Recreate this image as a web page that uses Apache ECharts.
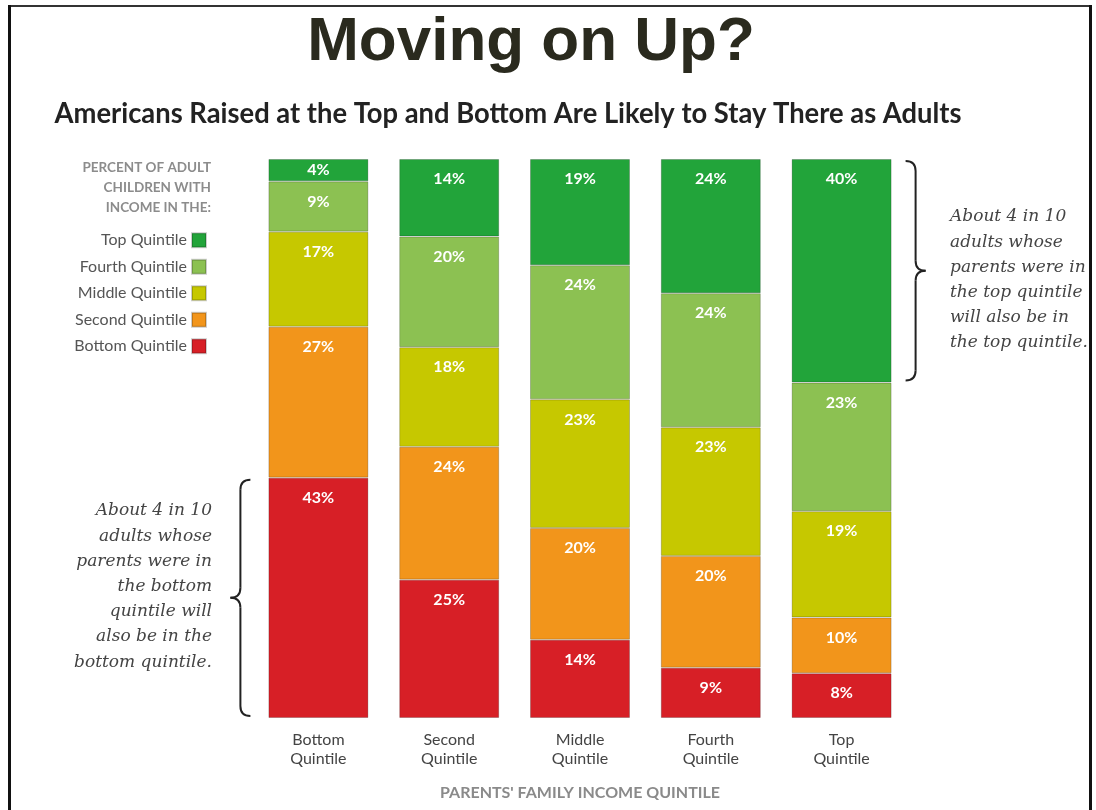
<!DOCTYPE html>
<html>
<head>
<meta charset="utf-8">
<title>Moving on Up?</title>
<script src="https://cdn.jsdelivr.net/npm/echarts@6/dist/echarts.min.js"></script>
<style>
  html, body { margin: 0; padding: 0; background: #fff; }
  #main { width: 1096px; height: 810px; }
</style>
</head>
<body>
<div id="main"></div>
<script>
// parents' family income quintile (x axis)
var categories = ['Bottom\nQuintile', 'Second\nQuintile', 'Middle\nQuintile', 'Fourth\nQuintile', 'Top\nQuintile'];

// percent of adult children with income in the ... quintile
var bottomQuintile = [43, 25, 14, 9, 8];
var secondQuintile = [27, 24, 20, 20, 10];
var middleQuintile = [17, 18, 23, 23, 19];
var fourthQuintile = [9, 20, 24, 24, 23];
var topQuintile = [4, 14, 19, 24, 40];

var seriesNames = ['Bottom Quintile', 'Second Quintile', 'Middle Quintile', 'Fourth Quintile', 'Top Quintile'];
var seriesColors = ['#d71f26', '#f2951b', '#c6c800', '#8cc152', '#22a43a'];
var seriesValues = [bottomQuintile, secondQuintile, middleQuintile, fourthQuintile, topQuintile];

// column totals (second column adds to 101), bars are drawn as share of the total
var totals = categories.map(function (c, i) {
  var s = 0;
  seriesValues.forEach(function (arr) { s += arr[i]; });
  return s;
});

var chart = echarts.init(document.getElementById('main'));

var series = seriesNames.map(function (name, k) {
  return {
    name: name,
    type: 'bar',
    stack: 'total',
    barWidth: 100,
    itemStyle: {
      color: seriesColors[k],
      borderColor: 'rgba(0,0,0,0.2)',
      borderWidth: 1
    },
    label: {
      show: true,
      position: 'insideTop',
      distance: 12,
      color: '#fff',
      fontFamily: 'Lato',
      fontWeight: 'bold',
      fontSize: 16,
      formatter: function (p) { return p.data.raw + '%'; }
    },
    data: seriesValues[k].map(function (v, i) {
      var item = { value: v * 100 / totals[i], raw: v };
      if (v < 6) {
        item.label = { position: 'inside' };
      }
      return item;
    })
  };
});

var option = {
  animation: false,
  backgroundColor: '#fff',
  grid: { left: 253, right: 189, top: 159, bottom: 92 },
  legend: {
    orient: 'vertical',
    align: 'right',
    right: 889,
    top: 231,
    padding: 0,
    itemWidth: 14,
    itemHeight: 14,
    itemGap: 8,
    icon: 'rect',
    selectedMode: false,
    textStyle: { color: '#555', fontFamily: 'Lato', fontSize: 16, lineHeight: 18.5 },
    data: ['Top Quintile', 'Fourth Quintile', 'Middle Quintile', 'Second Quintile', 'Bottom Quintile']
  },
  xAxis: {
    type: 'category',
    data: categories,
    axisLine: { show: false },
    axisTick: { show: false },
    axisLabel: {
      color: '#444',
      fontFamily: 'Lato',
      fontSize: 16,
      lineHeight: 19,
      margin: 12
    },
    name: "PARENTS' FAMILY INCOME QUINTILE",
    nameLocation: 'middle',
    nameGap: 67,
    nameTextStyle: { color: '#8a8a8a', fontFamily: 'Lato', fontWeight: 'bold', fontSize: 16 }
  },
  yAxis: { type: 'value', min: 0, max: 100, show: false },
  series: series
};

chart.setOption(option);

var braceStyle = { stroke: '#222', lineWidth: 2, fill: 'none' };

// curly brace built from curves and lines, tip pointing right (dir 1) or left (dir -1)
function brace(x0, y1, y2, depth, dir) {
  var xm = x0 + dir * depth / 2;
  var xt = x0 + dir * depth;
  var ym = (y1 + y2) / 2;
  var r = 10;
  return [
    { type: 'bezierCurve', shape: { x1: x0, y1: y1, cpx1: xm, cpy1: y1, x2: xm, y2: y1 + r }, style: braceStyle },
    { type: 'line', shape: { x1: xm, y1: y1 + r, x2: xm, y2: ym - r }, style: braceStyle },
    { type: 'bezierCurve', shape: { x1: xm, y1: ym - r, cpx1: xm, cpy1: ym, x2: xt, y2: ym }, style: braceStyle },
    { type: 'bezierCurve', shape: { x1: xt, y1: ym, cpx1: xm, cpy1: ym, x2: xm, y2: ym + r }, style: braceStyle },
    { type: 'line', shape: { x1: xm, y1: ym + r, x2: xm, y2: y2 - r }, style: braceStyle },
    { type: 'bezierCurve', shape: { x1: xm, y1: y2 - r, cpx1: xm, cpy1: y2, x2: x0, y2: y2 }, style: braceStyle }
  ];
}

var last = categories.length - 1;
var topA = chart.convertToPixel({ gridIndex: 0 }, [last, 100]);
var topB = chart.convertToPixel({ gridIndex: 0 }, [last, 100 - topQuintile[last] * 100 / totals[last]]);
var botA = chart.convertToPixel({ gridIndex: 0 }, [0, bottomQuintile[0] * 100 / totals[0]]);
var botB = chart.convertToPixel({ gridIndex: 0 }, [0, 0]);

// subtitle is a condensed face in the original: squeeze Lato to the same width
var subText = 'Americans Raised at the Top and Bottom Are Likely to Stay There as Adults';
var subFont = 'bold 29px Lato';
var ctx = document.createElement('canvas').getContext('2d');
ctx.font = subFont;
var subScale = 907 / ctx.measureText(subText).width;

var noteFont = 'italic 17px "DejaVu Serif"';
var noteColor = '#444';
var headFont = 'bold 13.5px Lato';

var graphics = [
  // frame
  { type: 'line', shape: { x1: 9, y1: 6, x2: 1091, y2: 6 }, style: { stroke: '#333', lineWidth: 2 } },
  { type: 'line', shape: { x1: 9.5, y1: 5, x2: 9.5, y2: 810 }, style: { stroke: '#111', lineWidth: 3 } },
  { type: 'line', shape: { x1: 1090.5, y1: 5, x2: 1090.5, y2: 810 }, style: { stroke: '#111', lineWidth: 3 } },
  // titles
  { type: 'text', x: 531, y: 43, style: { text: 'Moving on Up?', font: 'bold 62px "Liberation Sans"', fill: '#2a2a1e', textAlign: 'center', textVerticalAlign: 'middle' } },
  { type: 'text', x: 508, y: 114, scaleX: subScale, style: { text: subText, font: subFont, fill: '#222', textAlign: 'center', textVerticalAlign: 'middle' } },
  // legend heading
  { type: 'text', x: 211, y: 168, style: { text: 'PERCENT OF ADULT', font: headFont, fill: '#8c8c8c', textAlign: 'right', textVerticalAlign: 'middle' } },
  { type: 'text', x: 211, y: 188, style: { text: 'CHILDREN WITH', font: headFont, fill: '#8c8c8c', textAlign: 'right', textVerticalAlign: 'middle' } },
  { type: 'text', x: 211, y: 208, style: { text: 'INCOME IN THE:', font: headFont, fill: '#8c8c8c', textAlign: 'right', textVerticalAlign: 'middle' } }
];

graphics = graphics
  .concat(brace(topA[0] + 50 + 14, topA[1] + 2, topB[1] - 2, 20, 1))
  .concat(brace(botA[0] - 50 - 18, botA[1] + 2, botB[1] - 2, 20, -1));

var rightNote = ['About 4 in 10', 'adults whose', 'parents were in', 'the top quintile', 'will also be in', 'the top quintile.'];
rightNote.forEach(function (t, i) {
  graphics.push({ type: 'text', x: 950, y: 217 + i * 25.2, style: { text: t, font: noteFont, fill: noteColor, textAlign: 'left', textVerticalAlign: 'middle' } });
});
var leftNote = ['About 4 in 10', 'adults whose', 'parents were in', 'the bottom', 'quintile will', 'also be in the', 'bottom quintile.'];
leftNote.forEach(function (t, i) {
  graphics.push({ type: 'text', x: 212, y: 511 + i * 25.2, style: { text: t, font: noteFont, fill: noteColor, textAlign: 'right', textVerticalAlign: 'middle' } });
});

chart.setOption({ graphic: graphics });
</script>
</body>
</html>
